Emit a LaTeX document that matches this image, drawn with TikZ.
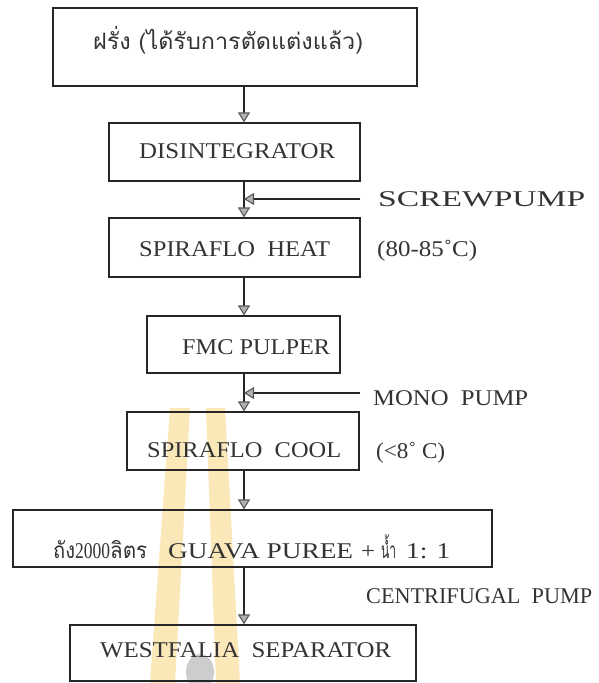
\documentclass[tikz,border=0pt]{standalone}
\usepackage{fontspec}
\usepackage{graphicx}
\setmainfont{Liberation Serif}
\newfontfamily\thaifont[Script=Thai]{Loma}
\usetikzlibrary{arrows.meta}
\newcommand\wfit[2]{\resizebox{#1}{\height}{#2}}
\definecolor{wmorange}{RGB}{251,232,185}
\definecolor{wmgray}{RGB}{205,205,205}
\tikzset{
  box/.style={draw=black!85, line width=1.2pt, rectangle, inner sep=0pt},
  arr/.style={draw=black!85, line width=1.1pt, -{Triangle[length=10pt,width=12pt,color=black!65,fill=black!30]}},
  lbl/.style={anchor=base west, inner sep=0pt, text=black!80, font=\fontsize{22.5}{25}\selectfont},
  wm/.style={fill=wmorange, draw=none},
}
\begin{document}
\begin{tikzpicture}[x=1pt,y=-1pt]
\useasboundingbox (0,0) rectangle (598,683);
% watermark
\fill[wm] (170,408) -- (190,408) -- (175,683) -- (150,683) -- cycle;
\fill[wm] (206,408) -- (225,408) -- (240,683) -- (216,683) -- cycle;
\fill[wmgray] (200,672) ellipse [x radius=14, y radius=18];
% boxes
\node[box, minimum width=364pt, minimum height=78pt] (b1) at (235,47) {};
\node[box, minimum width=251pt, minimum height=58pt] (b2) at (234.5,152) {};
\node[box, minimum width=251pt, minimum height=59pt] (b3) at (234.5,247.5) {};
\node[box, minimum width=193pt, minimum height=57pt] (b4) at (243.5,344.5) {};
\node[box, minimum width=232pt, minimum height=58pt] (b5) at (243,441) {};
\node[box, minimum width=479pt, minimum height=57pt] (b6) at (252.5,538.5) {};
\node[box, minimum width=346pt, minimum height=56pt] (b7) at (243,653) {};
% texts
\node[lbl] (t1) at (93,49) {\thaifont\wfit{270pt}{ฝรั่ง (ได้รับการตัดแต่งแล้ว)}};
\node[lbl] (t2) at (139,158) {\wfit{196pt}{DISINTEGRATOR}};
\node[lbl] (t3) at (378,206) {\wfit{207pt}{SCREWPUMP}};
\node[lbl] (t4) at (139,256) {\wfit{191pt}{SPIRAFLO\ \ HEAT}};
\node[lbl] (t5) at (377,256) {\wfit{100pt}{(80-85˚C)}};
\node[lbl] (t6) at (182,354) {\wfit{148pt}{FMC PULPER}};
\node[lbl] (t7) at (373,405) {\wfit{155pt}{MONO\ \ PUMP}};
\node[lbl] (t8) at (147,457) {\wfit{194pt}{SPIRAFLO\ \ COOL}};
\node[lbl] (t9) at (376,458) {\wfit{69pt}{(<8˚ C)}};
\node[lbl] (t10) at (53,558) {{\thaifont\wfit{22pt}{ถัง}}\wfit{35pt}{2000}{\thaifont\wfit{37pt}{ลิตร}}\hspace{21pt}\wfit{185pt}{GUAVA PUREE}\hspace{8pt}\wfit{14pt}{+}\hspace{6pt}{\thaifont\wfit{15pt}{น้ำ}}\hspace{10pt}\wfit{44pt}{1: 1}};
\node[lbl] (t11) at (366,603) {\wfit{226pt}{CENTRIFUGAL\ \ PUMP}};
\node[lbl] (t12) at (100,657) {\wfit{291pt}{WESTFALIA\ \ SEPARATOR}};
% junctions
\coordinate (j1) at (244,199);
\coordinate (j2) at (244,393);
\coordinate (s1) at (360,199);
\coordinate (s2) at (360,393);
% connectors
\draw[arr] (b1.south -| j1) -- (b2.north -| j1);
\draw[arr] (b2.south -| j1) -- (b3.north -| j1);
\draw[arr] (s1) -- (j1);
\draw[arr] (b3.south -| j1) -- (b4.north -| j1);
\draw[arr] (b4.south -| j2) -- (b5.north -| j2);
\draw[arr] (s2) -- (j2);
\draw[arr] (b5.south -| j2) -- (b6.north -| j2);
\draw[arr] (b6.south -| j2) -- (b7.north -| j2);
\end{tikzpicture}
\end{document}
